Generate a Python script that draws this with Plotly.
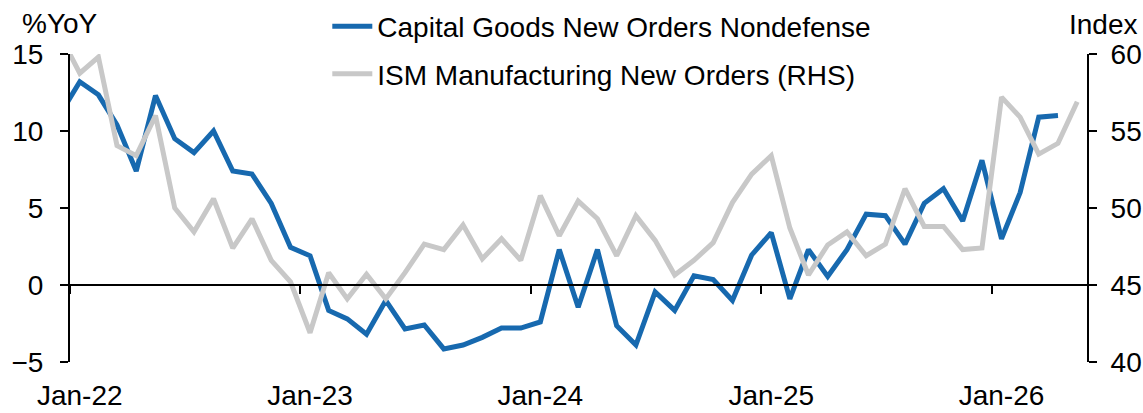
import pandas as pd
import plotly.graph_objects as go

# Monthly observations, Dec-21 .. May-26 (Dec-21 lies just left of the visible range)
months = pd.date_range("2021-12-01", "2026-05-01", freq="MS")

capex_orders_yoy = [
    11.1,
    13.2, 12.35, 10.4, 7.4, 12.3, 9.5, 8.6, 10.0, 7.4, 7.2, 5.3, 2.45,
    1.9, -1.65, -2.2, -3.2, -1.0, -2.85, -2.6, -4.15, -3.9, -3.4, -2.8, -2.8,
    -2.4, 2.3, -1.45, 2.3, -2.65, -3.9, -0.45, -1.65, 0.6, 0.35, -1.0, 1.95,
    3.4, -0.9, 2.3, 0.55, 2.3, 4.6, 4.5, 2.65, 5.3, 6.25, 4.15, 8.1,
    3.0, 6.0, 10.9, 11.0, None,
]

ism_new_orders = [
    61.2,
    58.75, 59.8, 54.05, 53.4, 56.0, 50.0, 48.45, 50.6, 47.4, 49.3, 46.6, 45.2,
    41.9, 45.8, 44.1, 45.7, 44.1, 45.8, 47.65, 47.3, 48.9, 46.7, 48.0, 46.6,
    50.8, 48.2, 50.45, 49.3, 46.9, 49.5, 47.9, 45.65, 46.6, 47.75, 50.35, 52.2,
    53.4, 48.7, 45.65, 47.6, 48.45, 46.9, 47.65, 51.25, 48.8, 48.8, 47.3, 47.4,
    57.2, 55.9, 53.5, 54.2, 56.9,
]

series_names = ["Capital Goods New Orders Nondefense", "ISM Manufacturing New Orders (RHS)"]
tick_years = [2022, 2023, 2024, 2025, 2026]
tick_labels = ["Jan-22", "Jan-23", "Jan-24", "Jan-25", "Jan-26"]

# plot each month at the middle of its period
mid_dates = [m + (m + pd.offsets.MonthBegin(1) - m) / 2 for m in months]
label_pos = [pd.Timestamp(f"{y}-01-01") + pd.Timedelta(days=15.5) for y in tick_years]
tick_pos = [pd.Timestamp(f"{y}-01-01") for y in tick_years]

FONT = "Liberation Sans, Arial, sans-serif"
BLUE = "#1769AF"
GREY = "#C8C8C8"

fig = go.Figure()
fig.add_trace(go.Scatter(
    x=mid_dates, y=capex_orders_yoy, name=series_names[0], mode="lines",
    line=dict(color=BLUE, width=5), legendgroup="a", connectgaps=False,
))
fig.add_trace(go.Scatter(
    x=mid_dates, y=ism_new_orders, name=series_names[1], mode="lines",
    line=dict(color=GREY, width=5), yaxis="y2", legendgroup="b",
))
# helper (invisible) trace so the zero-line axis with tick marks is drawn
fig.add_trace(go.Scatter(
    x=[mid_dates[1]], y=[None], xaxis="x2", yaxis="y", showlegend=False,
    hoverinfo="skip", mode="lines",
))

rng = ["2022-01-01", "2026-06-01"]
fig.update_layout(
    width=1143, height=413,
    margin=dict(l=70, r=56, t=54, b=51, autoexpand=False),
    paper_bgcolor="white", plot_bgcolor="white",
    font=dict(family=FONT, size=28, color="black"),
    showlegend=True,
    legend=dict(
        x=0.253, y=1.17, xanchor="left", yanchor="top",
        bgcolor="rgba(0,0,0,0)", font=dict(size=28),
        tracegroupgap=8, itemwidth=40,
    ),
    xaxis=dict(
        range=rng, showgrid=False, zeroline=False, showline=False,
        tickmode="array", tickvals=label_pos, ticktext=tick_labels,
        ticks="", ticklabelstandoff=14, automargin=False,
    ),
    xaxis2=dict(
        range=rng, matches="x", overlaying="x", anchor="free", position=0.25,
        showgrid=False, zeroline=False, showline=True, linecolor="black", linewidth=2,
        tickmode="array", tickvals=tick_pos, ticks="outside", ticklen=8,
        tickwidth=2, tickcolor="black", showticklabels=False, automargin=False,
    ),
    yaxis=dict(
        range=[-5, 15], dtick=5, tick0=-5, showgrid=False, zeroline=False,
        showline=True, linecolor="black", linewidth=2,
        ticks="outside", ticklen=8, tickwidth=2, tickcolor="black",
        ticklabelstandoff=11, automargin=False,
    ),
    yaxis2=dict(
        range=[40, 60], dtick=5, tick0=40, overlaying="y", side="right",
        showgrid=False, zeroline=False, showline=True, linecolor="black", linewidth=2,
        ticks="outside", ticklen=8, tickwidth=2, tickcolor="black",
        ticklabelstandoff=8, automargin=False,
    ),
    annotations=[
        dict(text="%YoY", xref="paper", yref="paper", x=-0.0098, y=1.10,
             xanchor="center", yanchor="middle", showarrow=False, font=dict(size=28)),
        dict(text="Index", xref="paper", yref="paper", x=1.0162, y=1.097,
             xanchor="center", yanchor="middle", showarrow=False, font=dict(size=28)),
    ],
)

fig.write_html(
    "out.html",
    config={"displayModeBar": False},
    post_script="document.body.style.margin='0';",
)
